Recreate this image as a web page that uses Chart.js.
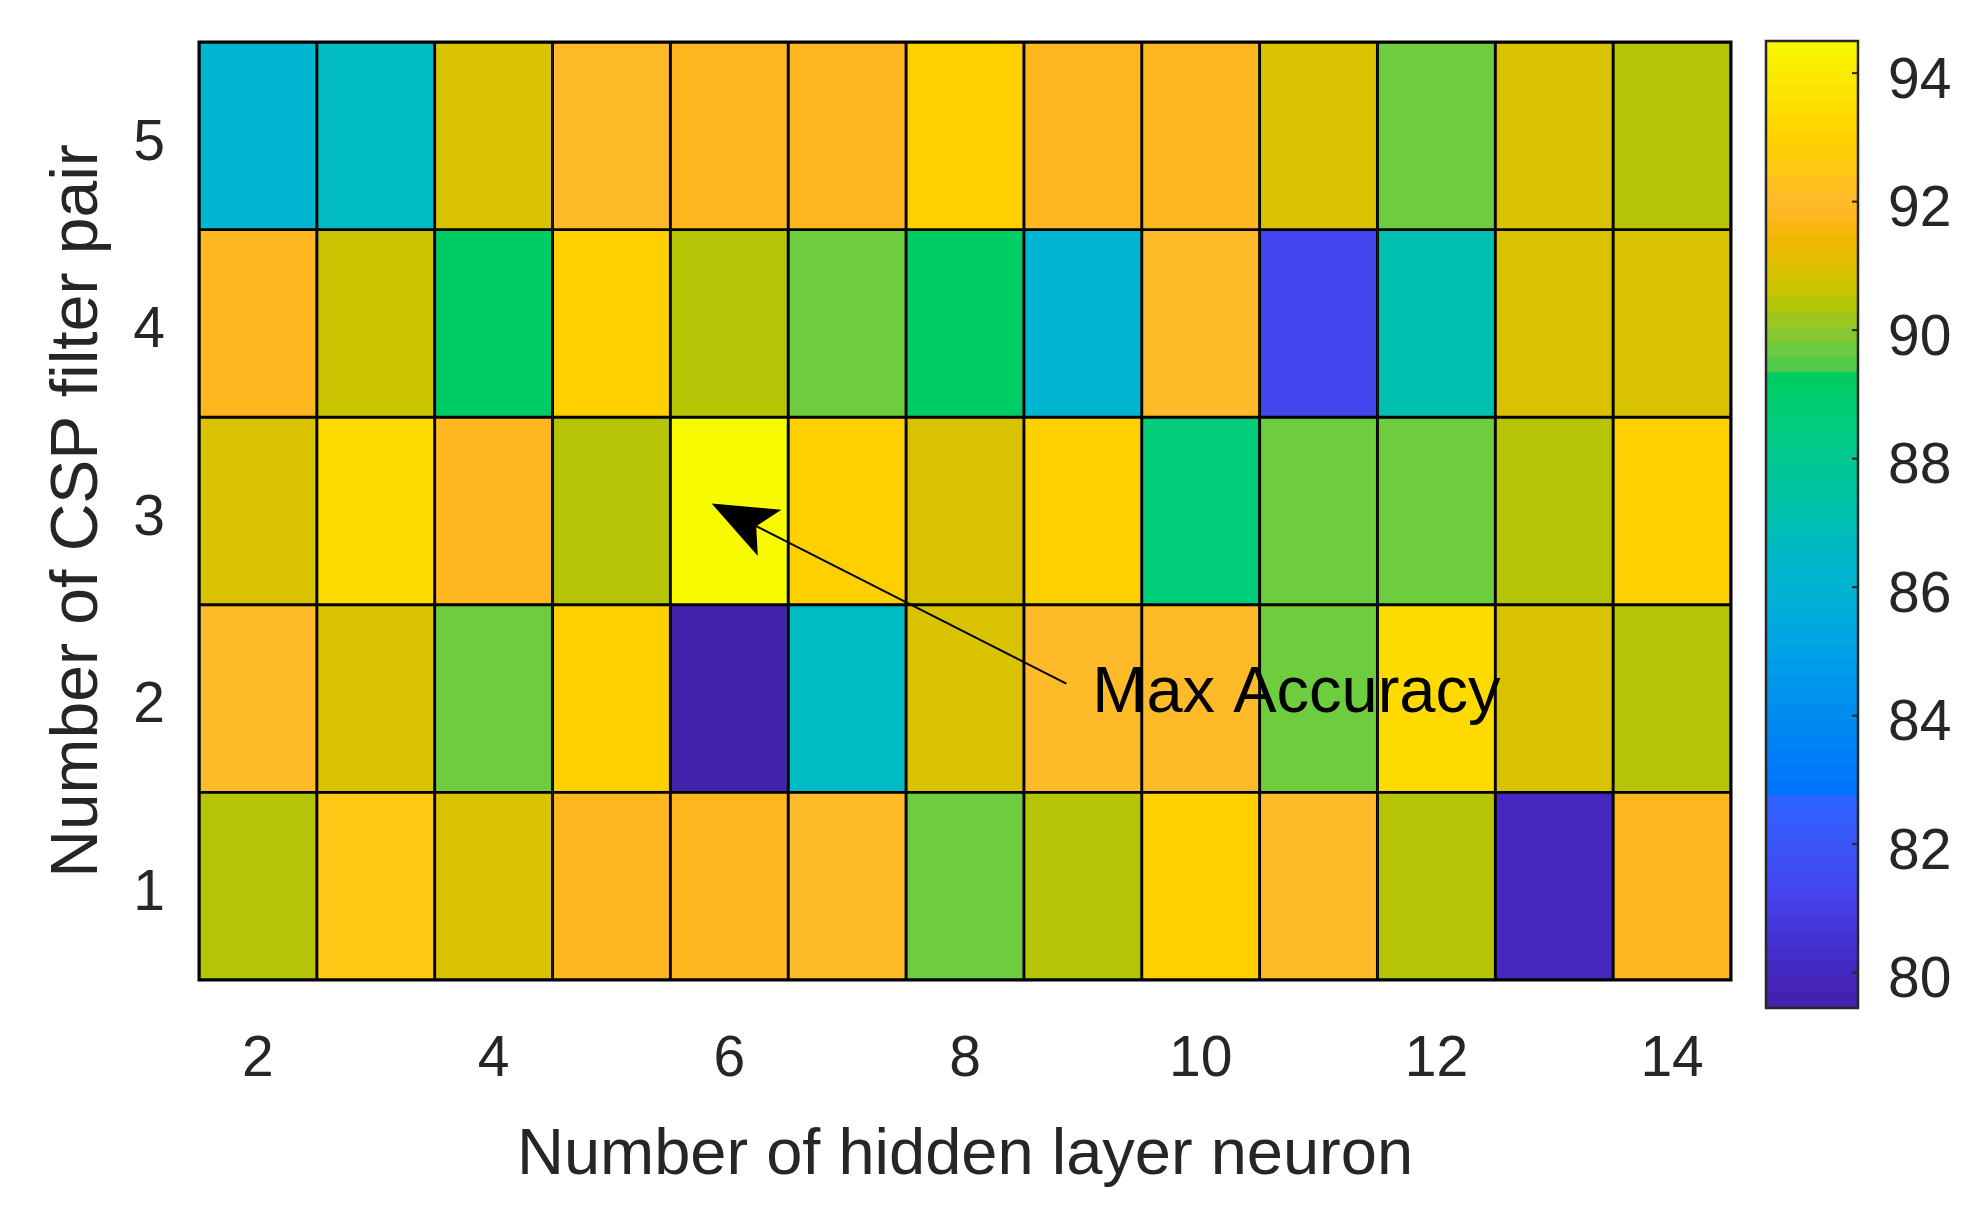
<!DOCTYPE html>
<html>
<head>
<meta charset="utf-8">
<script src="https://cdn.jsdelivr.net/npm/chart.js@4.4.0/dist/chart.umd.min.js"></script>
<style>
  html, body { margin: 0; padding: 0; background: #fff; }
  #wrap { position: relative; width: 1988px; height: 1214px; }
  #heat { position: absolute; left: 0; top: 0; }
  #bar { position: absolute; left: 1762px; top: 0; }
</style>
</head>
<body>
<div id="wrap">
  <canvas id="heat" width="1988" height="1214"></canvas>
  <canvas id="bar" width="226" height="1214"></canvas>
</div>
<script>
// hidden layer neurons (x) and CSP filter pairs (y)
var xValues = [2, 3, 4, 5, 6, 7, 8, 9, 10, 11, 12, 13, 14];
var yValues = [1, 2, 3, 4, 5];

// accuracy (%) per CSP filter pair, one value per neuron count
var csp1 = [90.4, 92.5, 90.9, 91.7, 91.7, 92.0, 89.7, 90.4, 92.9, 92.0, 90.4, 80.0, 91.7];
var csp2 = [92.0, 90.9, 89.7, 92.9, 79.5, 86.6, 90.9, 92.0, 92.0, 89.7, 93.3, 90.9, 90.4];
var csp3 = [90.9, 93.3, 91.7, 90.4, 94.5, 92.9, 90.9, 92.9, 88.6, 89.7, 89.7, 90.4, 92.9];
var csp4 = [91.7, 90.6, 89.1, 92.9, 90.4, 89.7, 89.1, 86.1, 92.0, 81.3, 87.1, 90.9, 90.9];
var csp5 = [86.1, 86.6, 90.9, 92.0, 91.7, 91.7, 92.9, 91.7, 91.7, 90.9, 89.7, 90.9, 90.4];
var rows = [csp1, csp2, csp3, csp4, csp5];

var cbTicks = [80, 82, 84, 86, 88, 90, 92, 94];
var cMin = 79.45, cMax = 94.5;

// colour map
var cmapStops = [
  [79.45, '#4321aa'], [80.0, '#4428c0'], [81.3, '#4545f0'], [82.0, '#3a56f8'],
  [82.7, '#2e62ff'], [82.75, '#0072ff'], [84.0, '#008cf0'], [85.0, '#00a2e6'],
  [86.1, '#00b5d0'], [86.6, '#00bac4'], [87.1, '#00c0b0'], [88.0, '#00c890'],
  [88.6, '#00cc7a'], [89.1, '#00cc66'], [89.3, '#00cc5c'], [89.4, '#4ccb4b'],
  [89.7, '#6ecc3f'], [90.0, '#90c62c'], [90.4, '#b5c506'], [90.6, '#cac400'],
  [90.9, '#d9c200'], [91.2, '#e8ba00'], [91.45, '#f2b700'], [91.7, '#feb71e'],
  [92.0, '#ffba2a'], [92.5, '#ffc814'], [92.9, '#ffd000'], [93.3, '#ffda00'],
  [94.0, '#faeb00'], [94.5, '#f8fa00']
];

function hexRgb(h) {
  return [parseInt(h.substr(1, 2), 16), parseInt(h.substr(3, 2), 16), parseInt(h.substr(5, 2), 16)];
}

function colorFor(v) {
  if (v <= cmapStops[0][0]) return cmapStops[0][1];
  for (var i = 1; i < cmapStops.length; i++) {
    if (v <= cmapStops[i][0]) {
      var a = cmapStops[i - 1], b = cmapStops[i];
      var t = (v - a[0]) / (b[0] - a[0]);
      var ca = hexRgb(a[1]), cb = hexRgb(b[1]);
      var c = ca.map(function (x, k) { return Math.round(x + (cb[k] - x) * t); });
      return 'rgb(' + c.join(',') + ')';
    }
  }
  return cmapStops[cmapStops.length - 1][1];
}

// no extra label padding around the plot area
function noPad(s) {
  s.paddingTop = 0;
  s.paddingBottom = 0;
  s.paddingLeft = 0;
  s.paddingRight = 0;
}

Chart.defaults.font.family = '"Liberation Sans", Arial, Helvetica, sans-serif';
Chart.defaults.color = '#262626';

var heatSets = rows.map(function (vals, r) {
  var y = yValues[r];
  return {
    label: 'CSP ' + y,
    data: vals.map(function () { return [y - 0.5, y + 0.5]; }),
    backgroundColor: vals.map(colorFor),
    borderColor: '#000',
    borderWidth: 1.8,
    borderSkipped: false,
    grouped: false,
    barPercentage: 1,
    categoryPercentage: 1
  };
});

var frame = {
  id: 'frame',
  afterDatasetsDraw: function (chart) {
    var a = chart.chartArea, ctx = chart.ctx;
    ctx.save();
    ctx.strokeStyle = '#000';
    ctx.lineWidth = 3;
    ctx.strokeRect(a.left, a.top, a.right - a.left, a.bottom - a.top);
    ctx.restore();
  }
};

var maxAnnot = {
  id: 'maxAnnot',
  afterDatasetsDraw: function (chart) {
    var xs = chart.scales.x, ys = chart.scales.y, ctx = chart.ctx;
    function px(v) { return xs.getPixelForValue(v - xValues[0]); }
    var tipX = px(5.85), tipY = ys.getPixelForValue(3.04);
    var tailX = px(8.86), tailY = ys.getPixelForValue(2.08);
    var dx = tailX - tipX, dy = tailY - tipY, len = Math.sqrt(dx * dx + dy * dy);
    var ux = dx / len, uy = dy / len, nx = -uy, ny = ux;
    ctx.save();
    ctx.strokeStyle = '#000';
    ctx.lineWidth = 2;
    ctx.beginPath();
    ctx.moveTo(tailX, tailY);
    ctx.lineTo(tipX + ux * 50, tipY + uy * 50);
    ctx.stroke();
    ctx.fillStyle = '#000';
    ctx.beginPath();
    ctx.moveTo(tipX, tipY);
    ctx.lineTo(tipX + ux * 65 + nx * 26, tipY + uy * 65 + ny * 26);
    ctx.lineTo(tipX + ux * 50, tipY + uy * 50);
    ctx.lineTo(tipX + ux * 65 - nx * 26, tipY + uy * 65 - ny * 26);
    ctx.closePath();
    ctx.fill();
    ctx.font = '65px "Liberation Sans", Arial, sans-serif';
    ctx.textAlign = 'left';
    ctx.textBaseline = 'alphabetic';
    ctx.fillText('Max Accuracy', px(9.08), ys.getPixelForValue(1.93));
    ctx.restore();
  }
};

new Chart('heat', {
  type: 'bar',
  data: { labels: xValues, datasets: heatSets },
  options: {
    responsive: false,
    animation: false,
    layout: { padding: { top: 42, right: 257, left: 0, bottom: 0 } },
    plugins: {
      legend: { display: false },
      tooltip: {
        callbacks: {
          label: function (c) { return 'Accuracy: ' + rows[c.datasetIndex][c.dataIndex] + '%'; }
        }
      }
    },
    scales: {
      x: {
        type: 'category',
        grid: { display: false, drawTicks: false },
        border: { display: false },
        ticks: {
          autoSkip: false,
          maxRotation: 0,
          padding: 46,
          font: { size: 57 },
          callback: function (v, i) { return xValues[i] % 2 === 0 ? String(xValues[i]) : ''; }
        },
        title: {
          display: true,
          text: 'Number of hidden layer neuron',
          font: { size: 65 },
          padding: { top: 0, bottom: 19 }
        },
        afterFit: function (s) { noPad(s); s.height = 234; }
      },
      y: {
        type: 'linear',
        min: 0.5,
        max: 5.5,
        grid: { display: false, drawTicks: false },
        border: { display: false },
        afterBuildTicks: function (s) { s.ticks = yValues.map(function (v) { return { value: v }; }); },
        ticks: { padding: 34, labelOffset: 8, font: { size: 57 } },
        title: {
          display: true,
          text: 'Number of CSP filter pair',
          font: { size: 66 },
          padding: { top: 39, bottom: 0 }
        },
        afterFit: function (s) { noPad(s); s.width = 199; }
      }
    }
  },
  plugins: [frame, maxAnnot]
});

// colour bar
var nLevels = 64;
var step = (cMax - cMin) / nLevels;
var cbSets = [];
for (var i = 0; i < nLevels; i++) {
  var lo = cMin + i * step;
  cbSets.push({
    data: [[lo, Math.min(cMax, lo + step * 1.05)]],
    backgroundColor: colorFor(lo + step / 2),
    borderWidth: 0,
    grouped: false,
    barPercentage: 1,
    categoryPercentage: 1
  });
}

var cbFrame = {
  id: 'cbFrame',
  afterDatasetsDraw: function (chart) {
    var a = chart.chartArea, ctx = chart.ctx, ys = chart.scales.y;
    ctx.save();
    ctx.strokeStyle = '#262626';
    ctx.lineWidth = 2.5;
    ctx.strokeRect(a.left, a.top, a.right - a.left, a.bottom - a.top);
    ctx.lineWidth = 2;
    cbTicks.forEach(function (t) {
      var y = ys.getPixelForValue(t);
      ctx.beginPath();
      ctx.moveTo(a.right - 6, y);
      ctx.lineTo(a.right, y);
      ctx.stroke();
    });
    ctx.restore();
  }
};

new Chart('bar', {
  type: 'bar',
  data: { labels: ['accuracy'], datasets: cbSets },
  options: {
    responsive: false,
    animation: false,
    layout: { padding: { top: 41, bottom: 206, left: 4, right: 0 } },
    plugins: { legend: { display: false }, tooltip: { enabled: false } },
    scales: {
      x: { display: false },
      y: {
        type: 'linear',
        position: 'right',
        min: cMin,
        max: cMax,
        grid: { display: false, drawTicks: false },
        border: { display: false },
        afterBuildTicks: function (s) { s.ticks = cbTicks.map(function (v) { return { value: v }; }); },
        ticks: { padding: 30, labelOffset: 9, font: { size: 57 } },
        afterFit: function (s) { noPad(s); s.width = 130; }
      }
    }
  },
  plugins: [cbFrame]
});
</script>
</body>
</html>
